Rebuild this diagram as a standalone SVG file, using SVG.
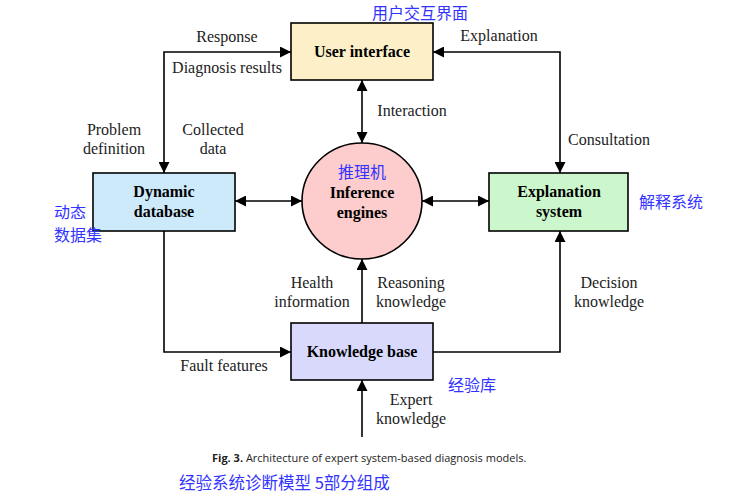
<svg xmlns="http://www.w3.org/2000/svg" width="748" height="498" viewBox="0 0 748 498">
<defs>
<marker id="ah" viewBox="0 0 10 10" refX="10" refY="5" markerWidth="11" markerHeight="11" markerUnits="userSpaceOnUse" orient="auto-start-reverse">
<path d="M0,0 L10,5 L0,10 z" fill="#000"/>
</marker>
<style>
.box{stroke:#000;stroke-width:1.6}
.nt{font-family:"Liberation Serif","Times New Roman",serif;font-weight:bold;font-size:16px;text-anchor:middle;fill:#000}
.lb{font-family:"Liberation Serif","Times New Roman",serif;font-size:16px;text-anchor:middle;fill:#222}
.cn{font-family:"Noto Sans CJK SC",sans-serif;font-size:16px;fill:#3333ff}
.ln{fill:none;stroke:#000;stroke-width:1.6}
</style>
</defs>
<rect width="748" height="498" fill="#fff"/>
<g id="connectors">
<path class="ln" d="M164,173 V52 H291" marker-start="url(#ah)" marker-end="url(#ah)"/>
<path class="ln" d="M560,173 V52 H433" marker-start="url(#ah)" marker-end="url(#ah)"/>
<path class="ln" d="M362,80 V143" marker-start="url(#ah)" marker-end="url(#ah)"/>
<path class="ln" d="M235,201 H302" marker-start="url(#ah)" marker-end="url(#ah)"/>
<path class="ln" d="M422,201 H489" marker-start="url(#ah)" marker-end="url(#ah)"/>
<path class="ln" d="M164,231 V352 H291" marker-end="url(#ah)"/>
<path class="ln" d="M362,323 V259" marker-end="url(#ah)"/>
<path class="ln" d="M433,352 H560 V231" marker-end="url(#ah)"/>
<path class="ln" d="M362,437 V380" marker-end="url(#ah)"/>
<text class="lb" x="227" y="42">Response</text>
<text class="lb" x="227" y="73">Diagnosis results</text>
<text class="lb" x="412" y="116">Interaction</text>
<text class="lb" x="499" y="41">Explanation</text>
<text class="lb" x="609" y="145">Consultation</text>
<text class="lb" x="114" y="135">Problem</text>
<text class="lb" x="114" y="154">definition</text>
<text class="lb" x="213" y="135">Collected</text>
<text class="lb" x="213" y="154">data</text>
<text class="lb" x="312" y="288">Health</text>
<text class="lb" x="312" y="307">information</text>
<text class="lb" x="411" y="288">Reasoning</text>
<text class="lb" x="411" y="307">knowledge</text>
<text class="lb" x="609" y="288">Decision</text>
<text class="lb" x="609" y="307">knowledge</text>
<text class="lb" x="224" y="371">Fault features</text>
<text class="lb" x="411" y="405">Expert</text>
<text class="lb" x="411" y="424">knowledge</text>
</g>
<g id="user-interface">
<rect class="box" x="291" y="23" width="142" height="57" fill="#fdf0c8"/>
<text class="nt" x="362" y="57">User interface</text>
<text class="cn" x="372" y="19">用户交互界面</text>
</g>
<g id="dynamic-database">
<rect class="box" x="93" y="173" width="142" height="58" fill="#cdeafb"/>
<text class="nt" x="164" y="197">Dynamic</text>
<text class="nt" x="164" y="217">database</text>
<text class="cn" x="54" y="218" font-size="15.5px">动态</text>
<text class="cn" x="54" y="241" font-size="15.5px">数据集</text>
</g>
<g id="inference-engines">
<ellipse class="box" cx="362" cy="201" rx="60" ry="58" fill="#fdcccc"/>
<text class="cn" x="362" y="178" text-anchor="middle">推理机</text>
<text class="nt" x="362" y="198">Inference</text>
<text class="nt" x="362" y="218">engines</text>
</g>
<g id="explanation-system">
<rect class="box" x="489" y="173" width="139" height="58" fill="#ccf7cc"/>
<text class="nt" x="559" y="197">Explanation</text>
<text class="nt" x="559" y="217">system</text>
<text class="cn" x="639" y="208">解释系统</text>
</g>
<g id="knowledge-base">
<rect class="box" x="291" y="323" width="142" height="57" fill="#d9d9fb"/>
<text class="nt" x="362" y="357">Knowledge base</text>
<text class="cn" x="448" y="391">经验库</text>
</g>
<g id="caption">
<text x="212" y="462" font-family="'Open Sans', sans-serif" font-size="11px" fill="#222"><tspan font-weight="bold">Fig. 3.</tspan> Architecture of expert system-based diagnosis models.</text>
<text x="179" y="489" font-family="'Noto Sans CJK SC', sans-serif" font-size="16.5px" fill="#3333ff">经验系统诊断模型 5部分组成</text>
</g>
</svg>
